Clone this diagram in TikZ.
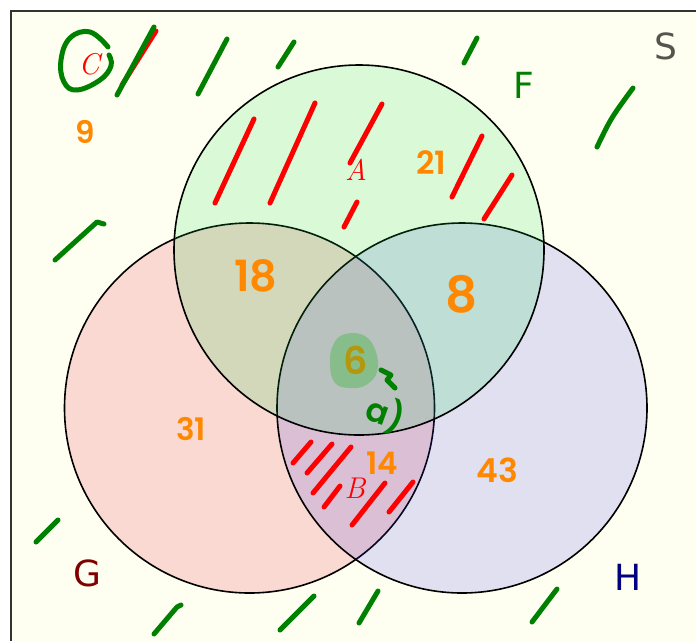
\documentclass[tikz,border=0pt]{standalone}
\usepackage{fontspec}
\usepackage{tikz}
\usetikzlibrary{positioning}
\newfontfamily\labelfont{DejaVu Sans}
\newfontfamily\handfont{Poppins SemiBold}
\usepackage{xcolor}
\definecolor{paper}{RGB}{255,255,241}
\definecolor{setgreen}{RGB}{0,215,67}
\definecolor{setred}{RGB}{215,0,27}
\definecolor{setblue}{RGB}{48,48,240}
\definecolor{labgreen}{RGB}{0,128,0}
\definecolor{labred}{RGB}{128,0,0}
\definecolor{labblue}{RGB}{0,0,128}
\definecolor{labgray}{RGB}{85,85,80}
\definecolor{penred}{RGB}{255,0,0}
\definecolor{pengreen}{RGB}{0,128,0}
\definecolor{penorange}{RGB}{255,136,0}
\definecolor{blobgreen}{RGB}{40,180,40}

\begin{document}
\begin{tikzpicture}[
	x=1pt, y=-1pt,
	set/.style={circle, draw=black, line width=1.6pt, fill opacity=0.15, minimum size=370pt, inner sep=0pt},
	setlabel/.style={font=\labelfont\fontsize{36}{36}\selectfont, inner sep=0pt},
	letter/.style={text=penred, font=\itshape\fontsize{30}{30}\selectfont, inner sep=0pt},
	count/.style={text=penorange, font=\handfont\fontsize{#1}{#1}\selectfont, inner sep=0pt},
	hatch/.style={draw=penred, line width=5pt, line cap=round, line join=round},
	cross/.style={draw=pengreen, line width=5pt, line cap=round, line join=round},
	]
	\useasboundingbox (0,0) rectangle (696,641);
	
	%Frame
	\fill[paper] (11,11) rectangle (696,641);
	\draw[black!80, line width=1.3pt] (11,641) -- (11,11) -- (696,11);
	
	%Sets
	\node[set, fill=setred]   (G) at (249.5,408) {};
	\node[set, fill=setblue]  (H) at (462,408)   {};
	\node[set, fill=setgreen] (F) at (359,250)   {};
	
	%Labels
	\node[setlabel, text=labgray]  (lS) at (666,46)  {S};
	\node[setlabel, text=labgreen] (lF) at (524,85)  {F};
	\node[setlabel, text=labred]   (lG) at (87,573)  {G};
	\node[setlabel, text=labblue]  (lH) at (628,577) {H};
	
	\node[letter] (lC) at (89,64)   {C};
	\node[letter] (lA) at (356,170) {A};
	\node[letter] (lB) at (355,488) {B};
	
	%Hatching in A
	\draw[hatch] (215,203) -- (254,119);
	\draw[hatch] (270,203) -- (315,103);
	\draw[hatch] (350,163) -- (382,104);
	\draw[hatch] (344,227) -- (357,202);
	\draw[hatch] (452,197) -- (482,136);
	\draw[hatch] (484,219) -- (512,175);
	
	%Hatching in B
	\draw[hatch] (293,463) -- (311,442);
	\draw[hatch] (307,473) -- (332,444);
	\draw[hatch] (313,493) -- (351,447);
	\draw[hatch] (324,507) -- (340,486);
	\draw[hatch] (352,525) -- (385,483);
	\draw[hatch] (389,512) -- (413,482);
	
	%Hatching in C
	\draw[hatch] (122,85) -- (156,31);
	\draw[cross] (117,95) -- (154,27);
	\draw[cross] (198,94) -- (227,39);
	\draw[cross] (278,67) -- (294,42);
	\draw[cross] (464,63) -- (477,38);
	\draw[cross] (597,147) .. controls (611,118) .. (633,88);
	\draw[cross] (55,260) -- (97,222) -- (104,224);
	\draw[cross] (36,542) -- (58,520);
	\draw[cross] (154,634) -- (177,607) -- (181,605);
	\draw[cross] (280,630) -- (314,596);
	\draw[cross] (359,623) -- (378,591);
	\draw[cross] (532,622) -- (557,589);
	
	%Ring round C
	\draw[cross] plot[smooth, tension=0.7] coordinates {(108,47) (90,32) (70,38) (61,60) (64,82) (77,90) (100,80) (111,66) (109,55)};
	
	%Counts
	\node[count=31] (n9)  at (85,132)  {9};
	\node[count=32] (n21) at (431,163) {21};
	\node[count=43] (n18) at (256,276) {18};
	\node[count=50] (n8)  at (462,294) {8};
	\node[count=38] (n6)  at (356,360) {6};
	\node[count=31] (n31) at (191,429) {31};
	\node[count=31] (n14) at (382,463) {14};
	\node[count=33] (n43) at (497,470) {43};
	
	%Mark on the middle
	\fill[blobgreen, opacity=0.35] plot[smooth cycle, tension=0.7] coordinates {(333,345) (345,334) (365,336) (376,352) (377,372) (366,385) (350,388) (335,383) (330,365)};
	\draw[cross] (381,370) -- (391,375) -- (387,380) -- (395,388);
	\node[count=33, text=pengreen, rotate=-20] (na) at (386,414) {a)};
\end{tikzpicture}
\end{document}
